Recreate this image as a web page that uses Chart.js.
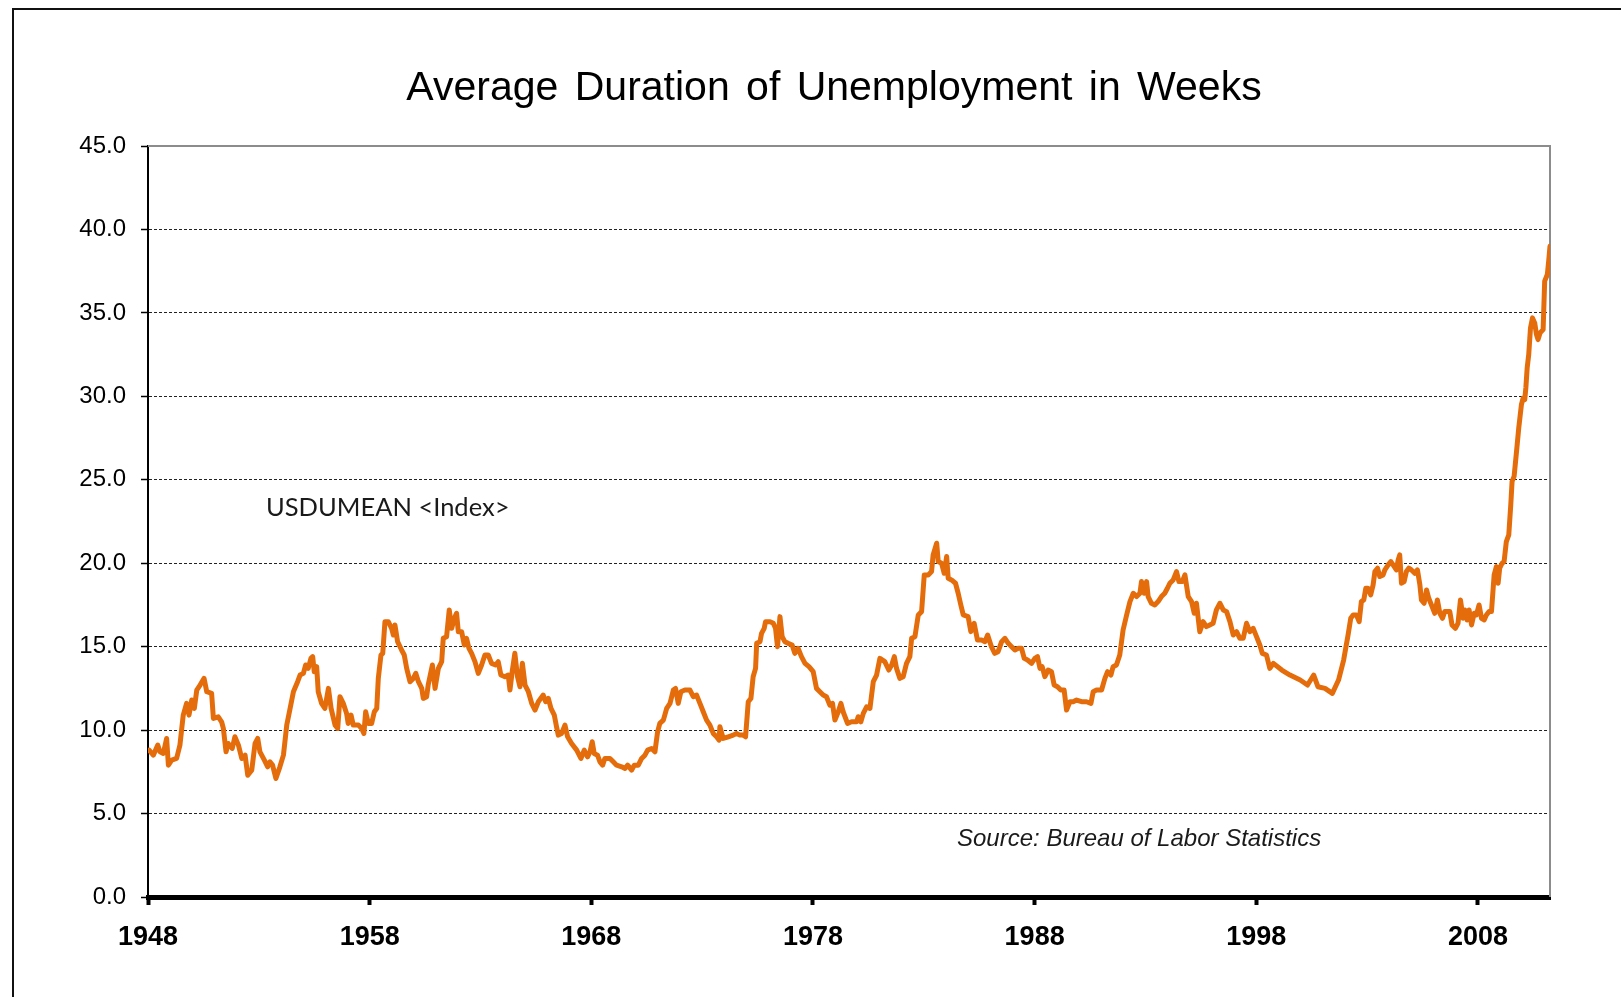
<!DOCTYPE html>
<html>
<head>
<meta charset="utf-8">
<script src="https://cdn.jsdelivr.net/npm/chart.js@4"></script>
<style>
  html, body { margin: 0; padding: 0; background: #fff; overflow: hidden; }
  #wrap { position: relative; width: 1621px; height: 997px; }
  #frame { position: absolute; left: 12px; top: 8px; width: 2000px; height: 2000px;
           border-left: 2px solid #111; border-top: 2px solid #111; }
  canvas { position: absolute; left: 0; top: 0; }
</style>
</head>
<body>
<div id="wrap">
  <div id="frame"></div>
  <canvas id="chart" width="1621" height="997"></canvas>
</div>
<script>
// texts
const titleText = 'Average Duration of Unemployment in Weeks';
const seriesLabel = 'USDUMEAN <Index>';
const sourceText = 'Source: Bureau of Labor Statistics';

// axes
const tickYears = [1948, 1958, 1968, 1978, 1988, 1998, 2008];
const yMin = 0, yMax = 45, yStep = 5;
const xMin = 1948, xMax = 2011.25;

// series (decimal year -> weeks)
const years = [
  1948.05, 1948.24, 1948.44, 1948.54, 1948.69, 1948.84, 1948.92, 1949.07, 1949.29, 1949.44,
  1949.59, 1949.74, 1949.85, 1949.97, 1950.09, 1950.20, 1950.35, 1950.53, 1950.65, 1950.87,
  1950.95, 1951.17, 1951.32, 1951.40, 1951.52, 1951.62, 1951.80, 1951.92, 1952.08, 1952.23,
  1952.38, 1952.50, 1952.68, 1952.83, 1952.95, 1953.05, 1953.25, 1953.40, 1953.50, 1953.62,
  1953.77, 1953.95, 1954.11, 1954.26, 1954.41, 1954.56, 1954.75, 1954.86, 1955.01, 1955.11,
  1955.23, 1955.35, 1955.43, 1955.50, 1955.61, 1955.68, 1955.83, 1955.98, 1956.14, 1956.26,
  1956.44, 1956.56, 1956.66, 1956.81, 1956.96, 1957.03, 1957.16, 1957.26, 1957.49, 1957.64,
  1957.74, 1957.82, 1957.94, 1958.09, 1958.21, 1958.32, 1958.39, 1958.51, 1958.59, 1958.69,
  1958.84, 1958.99, 1959.07, 1959.14, 1959.26, 1959.44, 1959.56, 1959.67, 1959.82, 1959.97,
  1960.08, 1960.20, 1960.35, 1960.42, 1960.57, 1960.64, 1960.83, 1960.95, 1961.10, 1961.25,
  1961.32, 1961.47, 1961.59, 1961.70, 1961.82, 1961.92, 1962.00, 1962.15, 1962.27, 1962.37,
  1962.48, 1962.60, 1962.75, 1962.90, 1963.05, 1963.20, 1963.35, 1963.50, 1963.68, 1963.80,
  1963.92, 1964.10, 1964.25, 1964.33, 1964.43, 1964.55, 1964.67, 1964.78, 1964.89, 1965.01,
  1965.16, 1965.31, 1965.46, 1965.61, 1965.83, 1965.94, 1966.06, 1966.18, 1966.33, 1966.43,
  1966.51, 1966.66, 1966.81, 1966.93, 1967.11, 1967.34, 1967.53, 1967.68, 1967.83, 1967.94,
  1968.04, 1968.13, 1968.28, 1968.39, 1968.51, 1968.61, 1968.84, 1968.99, 1969.14, 1969.37,
  1969.52, 1969.64, 1969.82, 1969.94, 1970.12, 1970.27, 1970.42, 1970.54, 1970.72, 1970.87,
  1970.99, 1971.09, 1971.25, 1971.40, 1971.55, 1971.70, 1971.80, 1971.92, 1972.04, 1972.22,
  1972.45, 1972.60, 1972.75, 1972.90, 1973.05, 1973.20, 1973.35, 1973.50, 1973.65, 1973.76,
  1973.80, 1973.95, 1974.18, 1974.40, 1974.55, 1974.70, 1974.85, 1974.96, 1975.08, 1975.20,
  1975.30, 1975.41, 1975.46, 1975.61, 1975.68, 1975.80, 1975.86, 1976.06, 1976.21, 1976.31,
  1976.40, 1976.51, 1976.61, 1976.73, 1976.88, 1977.06, 1977.18, 1977.33, 1977.48, 1977.64,
  1977.82, 1978.01, 1978.16, 1978.31, 1978.46, 1978.61, 1978.76, 1978.88, 1978.99, 1979.14,
  1979.26, 1979.36, 1979.56, 1979.74, 1979.97, 1980.04, 1980.16, 1980.27, 1980.42, 1980.57,
  1980.72, 1980.87, 1981.02, 1981.24, 1981.42, 1981.55, 1981.67, 1981.77, 1981.92, 1982.07,
  1982.22, 1982.37, 1982.45, 1982.60, 1982.75, 1982.90, 1983.02, 1983.20, 1983.35, 1983.42,
  1983.58, 1983.65, 1983.80, 1983.92, 1984.03, 1984.10, 1984.25, 1984.43, 1984.55, 1984.67,
  1984.78, 1985.00, 1985.12, 1985.27, 1985.42, 1985.61, 1985.76, 1985.88, 1986.05, 1986.20,
  1986.35, 1986.51, 1986.66, 1986.81, 1986.96, 1987.11, 1987.26, 1987.41, 1987.53, 1987.68,
  1987.86, 1988.01, 1988.13, 1988.24, 1988.34, 1988.46, 1988.61, 1988.76, 1988.88, 1989.03,
  1989.18, 1989.33, 1989.44, 1989.59, 1989.74, 1989.89, 1990.12, 1990.34, 1990.54, 1990.64,
  1990.79, 1991.02, 1991.17, 1991.29, 1991.44, 1991.54, 1991.69, 1991.84, 1991.99, 1992.15,
  1992.30, 1992.45, 1992.60, 1992.75, 1992.82, 1992.94, 1993.05, 1993.12, 1993.27, 1993.42,
  1993.57, 1993.72, 1993.87, 1993.99, 1994.10, 1994.25, 1994.40, 1994.51, 1994.66, 1994.78,
  1994.93, 1995.08, 1995.20, 1995.30, 1995.45, 1995.60, 1995.75, 1995.90, 1996.05, 1996.20,
  1996.36, 1996.51, 1996.66, 1996.81, 1996.96, 1997.11, 1997.26, 1997.41, 1997.56, 1997.71,
  1997.86, 1998.01, 1998.16, 1998.27, 1998.46, 1998.61, 1998.77, 1999.15, 1999.52, 1999.98,
  2000.31, 2000.59, 2000.78, 2001.10, 2001.43, 2001.71, 2001.94, 2002.14, 2002.26, 2002.37,
  2002.52, 2002.64, 2002.74, 2002.85, 2002.94, 2003.04, 2003.16, 2003.27, 2003.35, 2003.47,
  2003.57, 2003.72, 2003.80, 2003.95, 2004.07, 2004.17, 2004.32, 2004.40, 2004.47, 2004.55,
  2004.67, 2004.77, 2004.88, 2005.00, 2005.15, 2005.27, 2005.38, 2005.45, 2005.57, 2005.68,
  2005.78, 2005.90, 2006.05, 2006.17, 2006.28, 2006.40, 2006.50, 2006.62, 2006.73, 2006.83,
  2006.98, 2007.10, 2007.21, 2007.33, 2007.41, 2007.51, 2007.60, 2007.71, 2007.83, 2007.93,
  2008.05, 2008.16, 2008.28, 2008.38, 2008.50, 2008.61, 2008.73, 2008.83, 2008.91, 2008.98,
  2009.09, 2009.18, 2009.28, 2009.39, 2009.48, 2009.54, 2009.63, 2009.74, 2009.84, 2009.96,
  2010.04, 2010.11, 2010.16, 2010.22, 2010.29, 2010.37, 2010.46, 2010.56, 2010.64, 2010.71,
  2010.80, 2010.94, 2011.01, 2011.13, 2011.19, 2011.25
];
const weeks = [
  8.8, 8.5, 9.1, 8.7, 8.6, 9.5, 7.9, 8.2, 8.3, 9.1,
  10.9, 11.6, 10.9, 11.8, 11.3, 12.4, 12.7, 13.1, 12.3, 12.2,
  10.7, 10.8, 10.5, 10.1, 8.7, 9.2, 8.9, 9.6, 9.1, 8.3,
  8.5, 7.3, 7.6, 9.2, 9.5, 8.7, 8.2, 7.8, 8.1, 7.9,
  7.1, 7.8, 8.5, 10.3, 11.3, 12.3, 12.9, 13.3, 13.4, 13.9,
  13.7, 14.3, 14.4, 13.5, 13.8, 12.3, 11.6, 11.3, 12.5, 11.3,
  10.3, 10.1, 12.0, 11.6, 11.0, 10.4, 10.9, 10.3, 10.3, 10.1,
  9.8, 11.1, 10.4, 10.4, 11.1, 11.3, 13.1, 14.5, 14.6, 16.5,
  16.5, 16.1, 15.7, 16.3, 15.3, 14.8, 14.5, 13.7, 12.9, 13.1,
  13.4, 12.9, 12.5, 11.9, 12.0, 12.7, 13.9, 12.5, 13.7, 14.1,
  15.5, 15.6, 17.2, 16.1, 16.7, 17.0, 15.9, 15.9, 15.1, 15.5,
  14.9, 14.6, 14.1, 13.4, 13.9, 14.5, 14.5, 14.0, 13.9, 14.1,
  13.3, 13.2, 13.3, 12.4, 13.5, 14.6, 13.2, 12.6, 14.0, 12.7,
  12.3, 11.6, 11.2, 11.7, 12.1, 11.7, 11.9, 11.3, 10.9, 10.2,
  9.7, 9.8, 10.3, 9.6, 9.2, 8.8, 8.3, 8.8, 8.4, 8.7,
  9.3, 8.6, 8.5, 8.1, 7.9, 8.3, 8.3, 8.1, 7.9, 7.8,
  7.7, 7.9, 7.6, 7.9, 7.9, 8.3, 8.5, 8.8, 8.9, 8.7,
  9.9, 10.4, 10.6, 11.3, 11.6, 12.4, 12.5, 11.6, 12.3, 12.4,
  12.4, 12.0, 12.1, 11.6, 11.1, 10.6, 10.3, 9.8, 9.6, 9.4,
  10.2, 9.5, 9.6, 9.7, 9.8, 9.7, 9.7, 9.6, 11.7, 11.9,
  13.2, 13.7, 15.2, 15.3, 15.8, 16.1, 16.5, 16.5, 16.4, 16.1,
  15.0, 16.8, 15.6, 15.3, 15.2, 15.1, 14.6, 14.9, 14.4, 14.0,
  13.8, 13.5, 12.5, 12.3, 12.1, 12.0, 11.5, 11.6, 10.6, 11.1,
  11.6, 11.1, 10.4, 10.5, 10.5, 10.8, 10.5, 11.0, 11.4, 11.3,
  12.9, 13.3, 14.3, 14.1, 13.6, 13.9, 14.4, 13.7, 13.1, 13.2,
  14.0, 14.4, 15.5, 15.6, 16.9, 17.1, 19.3, 19.3, 19.5, 20.5,
  21.2, 20.1, 20.0, 19.4, 20.4, 19.1, 19.0, 18.8, 18.2, 17.5,
  16.9, 16.8, 15.9, 16.4, 15.4, 15.4, 15.3, 15.7, 15.0, 14.6,
  14.7, 15.3, 15.5, 15.2, 15.0, 14.8, 14.9, 14.9, 14.3, 14.2,
  14.0, 14.3, 14.4, 13.7, 13.8, 13.2, 13.6, 13.5, 12.7, 12.6,
  12.4, 12.4, 11.2, 11.7, 11.7, 11.8, 11.7, 11.7, 11.6, 12.3,
  12.4, 12.4, 13.1, 13.5, 13.3, 13.8, 13.9, 14.5, 16.0, 16.9,
  17.7, 18.2, 18.0, 18.2, 18.9, 18.2, 18.9, 18.0, 17.6, 17.5,
  17.7, 18.0, 18.2, 18.5, 18.8, 19.0, 19.5, 18.9, 18.9, 19.3,
  18.0, 17.7, 17.0, 17.6, 15.9, 16.5, 16.2, 16.3, 16.4, 17.2,
  17.6, 17.2, 17.1, 16.5, 15.7, 15.9, 15.5, 15.5, 16.4, 15.9,
  16.1, 15.6, 15.1, 14.6, 14.5, 13.7, 14.0, 13.6, 13.3, 13.0,
  12.7, 13.3, 12.6, 12.5, 12.2, 13.0, 14.2, 15.7, 16.7, 16.9,
  16.9, 16.5, 17.7, 17.8, 18.5, 18.5, 18.1, 18.7, 19.5, 19.7,
  19.2, 19.3, 19.6, 19.9, 20.1, 19.9, 19.6, 20.2, 20.5, 18.8,
  18.9, 19.5, 19.7, 19.6, 19.4, 19.6, 18.7, 17.8, 17.6, 18.4,
  17.9, 17.5, 17.0, 17.8, 17.0, 16.7, 17.1, 17.1, 17.1, 16.3,
  16.1, 16.4, 17.8, 16.7, 17.2, 16.6, 17.2, 16.3, 17.0, 16.9,
  17.5, 16.7, 16.6, 16.9, 17.1, 17.1, 19.3, 19.8, 18.8, 19.7,
  20.0, 20.1, 21.3, 21.7, 23.5, 24.9, 25.2, 26.7, 28.1, 29.5,
  29.9, 29.8, 30.5, 31.7, 32.5, 34.1, 34.7, 34.4, 33.7, 33.4,
  33.8, 34.0, 36.9, 37.3, 38.1, 39.0
];

const labelFont = '"Liberation Sans", Arial, sans-serif';

// plot frame (top + right) and the free texts
const decorPlugin = {
  id: 'decor',
  beforeDatasetsDraw(chart) {
    const { ctx, chartArea: a } = chart;
    ctx.save();
    ctx.strokeStyle = '#8c8c8c';
    ctx.lineWidth = 2;
    ctx.beginPath();
    ctx.moveTo(a.left, a.top);
    ctx.lineTo(a.right, a.top);
    ctx.lineTo(a.right, a.bottom);
    ctx.stroke();
    ctx.restore();
  },
  afterDraw(chart) {
    const { ctx } = chart;
    ctx.save();
    ctx.fillStyle = '#000';
    ctx.textAlign = 'center';
    ctx.textBaseline = 'alphabetic';
    ctx.font = '41px ' + labelFont;
    ctx.wordSpacing = '5px';
    ctx.fillText(titleText, 834, 100);
    ctx.wordSpacing = '0px';

    ctx.textAlign = 'left';
    ctx.fillStyle = '#1a1a1a';
    ctx.font = '25.5px Lato, sans-serif';
    ctx.fillText(seriesLabel, 266, 516);

    ctx.font = 'italic 24px ' + labelFont;
    ctx.fillText(sourceText, 957, 846);
    ctx.restore();
  }
};

new Chart(document.getElementById('chart'), {
  type: 'line',
  data: {
    datasets: [{
      label: seriesLabel,
      data: years.map((x, i) => ({ x: x, y: weeks[i] })),
      borderColor: '#E46C0A',
      borderWidth: 5,
      borderJoinStyle: 'round',
      borderCapStyle: 'round',
      pointRadius: 0,
      tension: 0,
      fill: false
    }]
  },
  options: {
    responsive: false,
    animation: false,
    devicePixelRatio: 1,
    layout: { padding: { top: 146, right: 71, bottom: 38, left: 0 } },
    plugins: {
      legend: { display: false },
      tooltip: { enabled: false }
    },
    scales: {
      x: {
        type: 'linear',
        min: xMin,
        max: xMax,
        afterBuildTicks: (scale) => { scale.ticks = tickYears.map(v => ({ value: v })); },
        afterFit: (scale) => { scale.height = 62; },
        ticks: {
          autoSkip: false,
          maxRotation: 0,
          padding: 16,
          color: '#000',
          font: { family: labelFont, size: 27, weight: 'bold' },
          callback: (v) => String(v)
        },
        grid: {
          drawOnChartArea: false,
          drawTicks: true,
          tickLength: 8,
          tickWidth: 4,
          tickColor: '#000'
        },
        border: { display: true, width: 5, color: '#000' }
      },
      y: {
        min: yMin,
        max: yMax,
        afterFit: (scale) => { scale.width = 148; },
        ticks: {
          stepSize: yStep,
          padding: 15,
          color: '#000',
          font: { family: labelFont, size: 24 },
          callback: (v) => v.toFixed(1)
        },
        grid: {
          color: (c) => (c.tick && (c.tick.value === yMin || c.tick.value === yMax)) ? 'rgba(0,0,0,0)' : '#222',
          lineWidth: 1,
          drawTicks: true,
          tickLength: 7,
          tickWidth: 1.5,
          tickColor: '#000'
        },
        border: { display: true, width: 2, color: '#000', dash: [3, 2] }
      }
    }
  },
  plugins: [decorPlugin]
});
</script>
</body>
</html>
